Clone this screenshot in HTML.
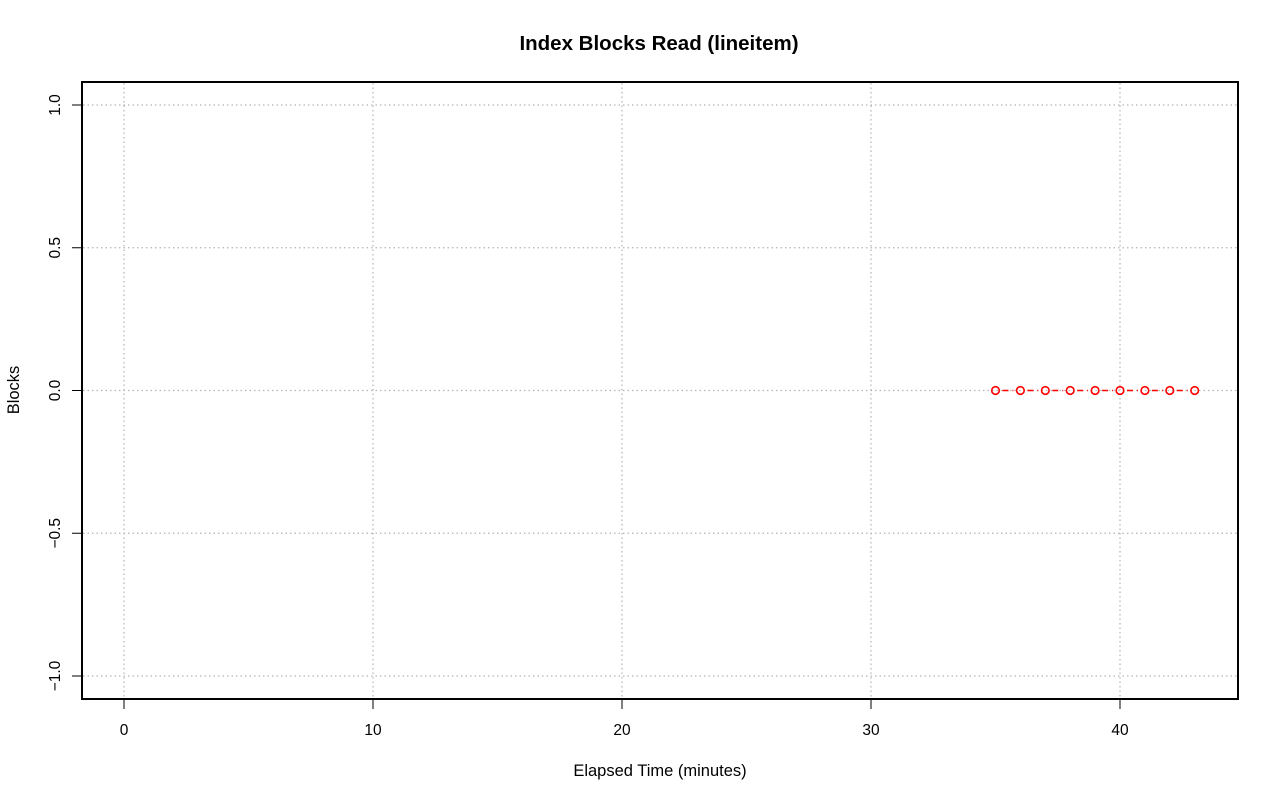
<!DOCTYPE html>
<html><head><meta charset="utf-8"><style>
html,body{margin:0;padding:0;background:#fff}
svg{display:block;font-family:"Liberation Sans",Arial,sans-serif}
</style></head><body>
<svg id="chart" width="1280" height="801" viewBox="0 0 1280 801" xmlns="http://www.w3.org/2000/svg">
<rect width="1280" height="801" fill="#fff"/>
<text x="659" y="50" text-anchor="middle" font-size="20.5" font-weight="bold">Index Blocks Read (lineitem)</text>
<text x="660" y="776" text-anchor="middle" font-size="16.5">Elapsed Time (minutes)</text>
<text transform="translate(19,390) rotate(-90)" text-anchor="middle" font-size="16.5">Blocks</text>
<g id="grid"></g>
<g id="axes"></g>
<g id="series"></g>
<rect x="82" y="82" width="1156" height="617" fill="none" stroke="#000" stroke-width="2"/>
</svg>
<script>
const xTicks = [0, 10, 20, 30, 40];
const yTicks = [-1.0, -0.5, 0.0, 0.5, 1.0];
const yTickLabels = ["\u22121.0", "\u22120.5", "0.0", "0.5", "1.0"];
const times = [35, 36, 37, 38, 39, 40, 41, 42, 43];
const blocks = [0, 0, 0, 0, 0, 0, 0, 0, 0];

const NS = "http://www.w3.org/2000/svg";
function xs(v){ return 124 + v * 24.9; }
function ys(v){ return 390.5 - v * 285.5; }
function mk(tag, attrs, parent){
  const e = document.createElementNS(NS, tag);
  for (const k in attrs) e.setAttribute(k, attrs[k]);
  parent.appendChild(e);
  return e;
}
const grid = document.getElementById('grid');
const axes = document.getElementById('axes');
const series = document.getElementById('series');

xTicks.forEach(function(t){
  const x = xs(t);
  const g = mk('line', {x1:x, x2:x, y1:83, y2:698, stroke:'#b4b4b4', 'stroke-width':1.2, 'stroke-dasharray':'1.5 3'}, grid);
  
  
  const tk = mk('line', {x1:x, x2:x, y1:699, y2:709, stroke:'#000'}, axes);
  
  
  const lb = mk('text', {x:x, y:735, 'text-anchor':'middle', 'font-size':15.5}, axes);
  lb.textContent = String(t);
  
  
});
yTicks.forEach(function(t, i){
  const y = ys(t);
  const g = mk('line', {x1:83, x2:1237, y1:y, y2:y, stroke:'#b4b4b4', 'stroke-width':1.2, 'stroke-dasharray':'1.5 3'}, grid);
  
  
  const tk = mk('line', {x1:72, x2:82, y1:y, y2:y, stroke:'#000'}, axes);
  
  
  const lb = mk('text', {transform:'translate(60,' + y + ') rotate(-90)', 'text-anchor':'middle', 'font-size':15.5}, axes);
  lb.textContent = yTickLabels[i];
  
  
});
for (let i = 0; i < times.length - 1; i++){
  const x1 = xs(times[i]), x2 = xs(times[i+1]), y1 = ys(blocks[i]), y2 = ys(blocks[i+1]);
  const dx = x2 - x1, dy = y2 - y1, len = Math.hypot(dx, dy), r = 7;
  if (len > 2*r){
    const ln = mk('line', {x1:x1 + dx*r/len, y1:y1 + dy*r/len, x2:x2 - dx*r/len, y2:y2 - dy*r/len, stroke:'#ff0000', 'stroke-width':1.5, 'stroke-dasharray':'6 4'}, series);
    
    
  }
}
times.forEach(function(t, i){
  const c = mk('circle', {cx:xs(t), cy:ys(blocks[i]), r:3.8, fill:'none', stroke:'#ff0000', 'stroke-width':1.6}, series);
  
  
});
</script>
</body></html>
